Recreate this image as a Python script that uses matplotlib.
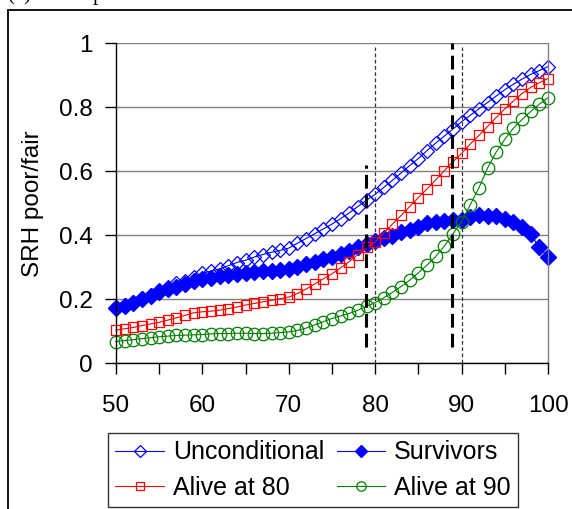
import matplotlib
matplotlib.use("Agg")
import matplotlib.pyplot as plt
from matplotlib.patches import Rectangle
import numpy as np

plt.rcParams['font.family'] = ['Liberation Sans', 'DejaVu Sans']

ages = list(range(50, 101))

unconditional = [0.175, 0.183, 0.192, 0.205, 0.215, 0.228, 0.240, 0.250, 0.258, 0.270,
                 0.282, 0.288, 0.295, 0.305, 0.315, 0.322, 0.332, 0.340, 0.347, 0.353,
                 0.360, 0.375, 0.390, 0.405, 0.420, 0.435, 0.452, 0.470, 0.490, 0.510,
                 0.528, 0.550, 0.572, 0.595, 0.618, 0.640, 0.665, 0.688, 0.710, 0.732,
                 0.755, 0.775, 0.795, 0.815, 0.835, 0.855, 0.872, 0.888, 0.903, 0.915,
                 0.927]
survivors = [0.174, 0.180, 0.190, 0.200, 0.210, 0.222, 0.232, 0.240, 0.248, 0.256,
             0.264, 0.268, 0.272, 0.275, 0.278, 0.282, 0.285, 0.288, 0.290, 0.292,
             0.295, 0.302, 0.310, 0.318, 0.325, 0.332, 0.342, 0.352, 0.362, 0.372,
             0.382, 0.392, 0.398, 0.410, 0.417, 0.427, 0.438, 0.443, 0.446, 0.448,
             0.449, 0.456, 0.464, 0.460, 0.461, 0.452, 0.441, 0.427, 0.403, 0.362,
             0.333]
alive80 = [0.104, 0.108, 0.112, 0.118, 0.123, 0.128, 0.135, 0.142, 0.150, 0.158,
           0.161, 0.163, 0.166, 0.171, 0.176, 0.182, 0.187, 0.192, 0.197, 0.202,
           0.207, 0.218, 0.232, 0.248, 0.264, 0.280, 0.298, 0.318, 0.340, 0.362,
           0.380, 0.408, 0.435, 0.462, 0.490, 0.518, 0.545, 0.573, 0.602, 0.630,
           0.656, 0.685, 0.712, 0.740, 0.768, 0.795, 0.820, 0.843, 0.862, 0.877,
           0.890]
alive90 = [0.068, 0.071, 0.074, 0.077, 0.080, 0.083, 0.085, 0.087, 0.088, 0.089,
           0.090, 0.092, 0.093, 0.093, 0.094, 0.094, 0.093, 0.093, 0.094, 0.096,
           0.098, 0.103, 0.110, 0.120, 0.130, 0.140, 0.148, 0.156, 0.166, 0.178,
           0.190, 0.205, 0.222, 0.240, 0.260, 0.283, 0.307, 0.334, 0.366, 0.405,
           0.443, 0.495, 0.548, 0.610, 0.660, 0.700, 0.735, 0.762, 0.787, 0.810,
           0.830]

xticks = [50, 60, 70, 80, 90, 100]
yticks = [0, 0.2, 0.4, 0.6, 0.8, 1]
ytick_labels = ['0', '0.2', '0.4', '0.6', '0.8', '1']

fig = plt.figure(figsize=(5.72, 5.09), dpi=100)
ax = fig.add_axes([116 / 572, 1 - 363.3 / 509, 432 / 572, 320 / 509])

blue = '#0000FF'
red = '#FF0000'
green = '#008000'

l1, = ax.plot(ages, unconditional, color=blue, lw=0.8, marker='D', ms=7.5,
              mfc='none', mec=blue, mew=0.9, clip_on=False, label='Unconditional')
l2, = ax.plot(ages, survivors, color=blue, lw=0.8, marker='D', ms=8.5,
              mfc=blue, mec=blue, clip_on=False, label='Survivors')
l3, = ax.plot(ages, alive80, color=red, lw=0.8, marker='s', ms=7.5,
              mfc='none', mec=red, mew=0.9, clip_on=False, label='Alive at 80')
l4, = ax.plot(ages, alive90, color=green, lw=0.8, marker='o', ms=9,
              mfc='none', mec=green, mew=0.9, clip_on=False, label='Alive at 90')

# reference ages (thin) and the shifted cut-offs (heavy dashes)
ax.plot([80, 80], [0, 0.99], color='#333333', lw=0.9, ls=(0, (3, 2)), zorder=5)
ax.plot([90, 90], [0, 0.99], color='#333333', lw=0.9, ls=(0, (3, 2)), zorder=5)
ax.plot([78.9, 78.9], [0.05, 0.62], color='black', lw=2.2, ls=(0, (4.5, 2)), zorder=6)
ax.plot([88.9, 88.9], [0.05, 1.0], color='black', lw=2.2, ls=(0, (4.5, 2)), zorder=6)

ax.set_xlim(50, 100)
ax.set_ylim(0, 1)
ax.set_xticks(xticks)
ax.set_xticks([55, 65, 75, 85, 95], minor=True)
ax.set_yticks(yticks)
ax.set_yticklabels(ytick_labels)
ax.grid(axis='y', color='#808080', lw=1.0)
ax.set_axisbelow(True)
ax.tick_params(axis='both', which='both', direction='out', length=8, width=1,
               labelsize=17.5, color='black')
ax.tick_params(axis='y', pad=9)
ax.tick_params(axis='x', pad=15)

for side in ['left', 'bottom']:
    ax.spines[side].set_color('black')
    ax.spines[side].set_linewidth(1.0)
ax.spines['top'].set_visible(False)
ax.spines['right'].set_color('#808080')
ax.spines['right'].set_linewidth(1.0)

ax.set_ylabel('SRH poor/fair', fontsize=17.5)
ax.yaxis.set_label_coords(-(116 - 44) / 432, 0.5)

leg = fig.legend([l1, l3, l2, l4], ['Unconditional', 'Alive at 80', 'Survivors', 'Alive at 90'],
                 ncol=2, loc='center', bbox_to_anchor=(313 / 572, 39 / 509),
                 fontsize=18, frameon=True, fancybox=False, handlelength=1.95,
                 handletextpad=0.35, columnspacing=0.5, borderpad=0.3, labelspacing=0.45,
                 markerscale=0.75, borderaxespad=0)
leg.get_frame().set_edgecolor('black')
leg.get_frame().set_linewidth(1.0)

# outer frame of the panel
fig.patches.append(Rectangle((8 / 572, -0.02), 1.05, 1 - 10 / 509 + 0.02,
                             transform=fig.transFigure, fill=False,
                             edgecolor='black', lw=1.3))
fig.text(8 / 572, 1.0, '(c) Self-reported health', family='Liberation Serif',
         fontsize=15, va='baseline', ha='left')

fig.savefig('out.png', dpi=100)
